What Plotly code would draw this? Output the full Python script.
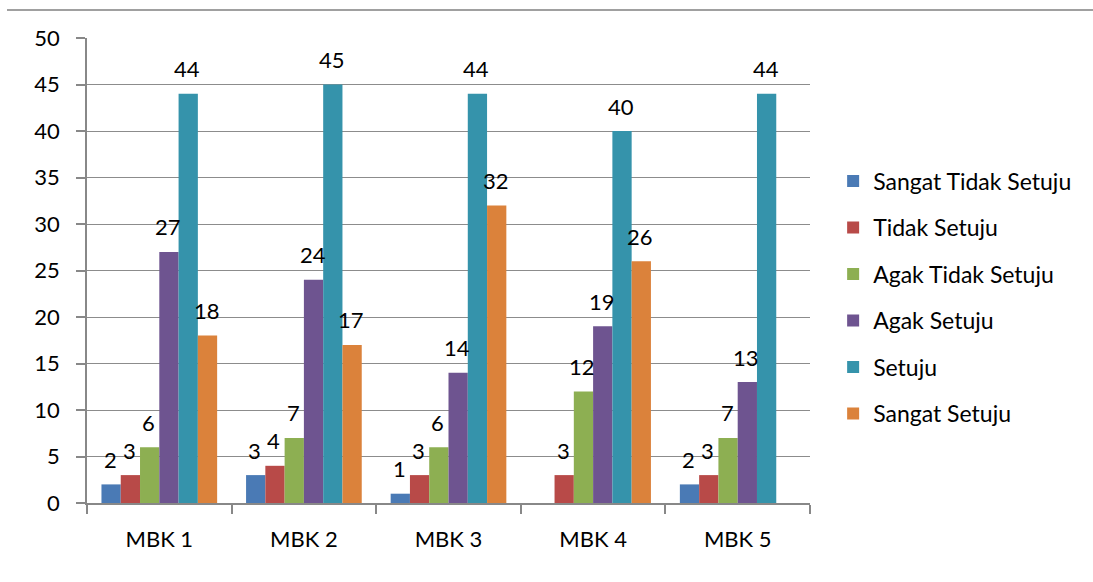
import plotly.graph_objects as go

categories = ["MBK 1", "MBK 2", "MBK 3", "MBK 4", "MBK 5"]
series_names = ["Sangat Tidak Setuju", "Tidak Setuju", "Agak Tidak Setuju",
                "Agak Setuju", "Setuju", "Sangat Setuju"]
sangat_tidak_setuju = [2, 3, 1, 0, 2]
tidak_setuju = [3, 4, 3, 3, 3]
agak_tidak_setuju = [6, 7, 6, 12, 7]
agak_setuju = [27, 24, 14, 19, 13]
setuju = [44, 45, 44, 40, 44]
sangat_setuju = [18, 17, 32, 26, 0]
y_ticks = [0, 5, 10, 15, 20, 25, 30, 35, 40, 45, 50]

series_values = [sangat_tidak_setuju, tidak_setuju, agak_tidak_setuju,
                 agak_setuju, setuju, sangat_setuju]
colors = ["#4A7AB5", "#B84A48", "#8DAF52", "#6E5490", "#3593AB", "#DB823B"]

FONT = "Lato"
W, H = 1093, 582
ML, MR, MT, MB = 87, 283, 38, 79
BARGAP = 0.2

fig = go.Figure()
for name, vals, col in zip(series_names, series_values, colors):
    fig.add_trace(go.Bar(
        x=categories, y=vals, name=name, marker=dict(color=col, line=dict(width=0)),
        legendgroup=name,
    ))

# data labels above bars
plot_w = W - ML - MR
cat_w = plot_w / len(categories)
bar_w = cat_w * (1 - BARGAP) / len(series_names)
n = len(series_names)
for i, vals in enumerate(series_values):
    xs = (i - (n - 1) / 2) * bar_w
    for c, v in zip(categories, vals):
        if v == 0:
            continue
        fig.add_annotation(x=c, y=v, text=str(v), showarrow=False,
                           xshift=xs - 1, yshift=25,
                           font=dict(family=FONT, size=22, color="#000000"))

fig.add_shape(type="line", xref="paper", yref="paper",
              x0=-80 / plot_w, x1=(W - ML) / plot_w,
              y0=(H - MB - 10) / (H - MT - MB), y1=(H - MB - 10) / (H - MT - MB),
              line=dict(color="#A0A0A0", width=2))

fig.update_layout(
    width=W, height=H,
    margin=dict(l=ML, r=MR, t=MT, b=MB),
    paper_bgcolor="white", plot_bgcolor="white",
    barmode="group", bargap=BARGAP, bargroupgap=0,
    font=dict(family=FONT, size=22, color="#000000"),
    showlegend=True,
    legend=dict(x=1.032, y=0.442, xanchor="left", yanchor="middle",
                font=dict(family=FONT, size=23, color="#000000"),
                tracegroupgap=13.6, itemwidth=30,
                bgcolor="rgba(0,0,0,0)"),
    xaxis=dict(showline=True, linecolor="#888888", linewidth=1.5,
               ticks="outside", tickson="boundaries", ticklen=9,
               tickcolor="#888888", tickwidth=1.5,
               ticklabelstandoff=16,
               tickfont=dict(family=FONT, size=22)),
    yaxis=dict(range=[0, 50], tickvals=y_ticks,
               showline=True, linecolor="#888888", linewidth=1.5,
               ticks="outside", ticklen=9, tickcolor="#888888", tickwidth=1.5,
               showgrid=True, gridcolor="#8C8C8C", gridwidth=1.2,
               zeroline=False, ticklabelstandoff=12,
               tickfont=dict(family=FONT, size=22)),
)

fig.write_html("out.html")
